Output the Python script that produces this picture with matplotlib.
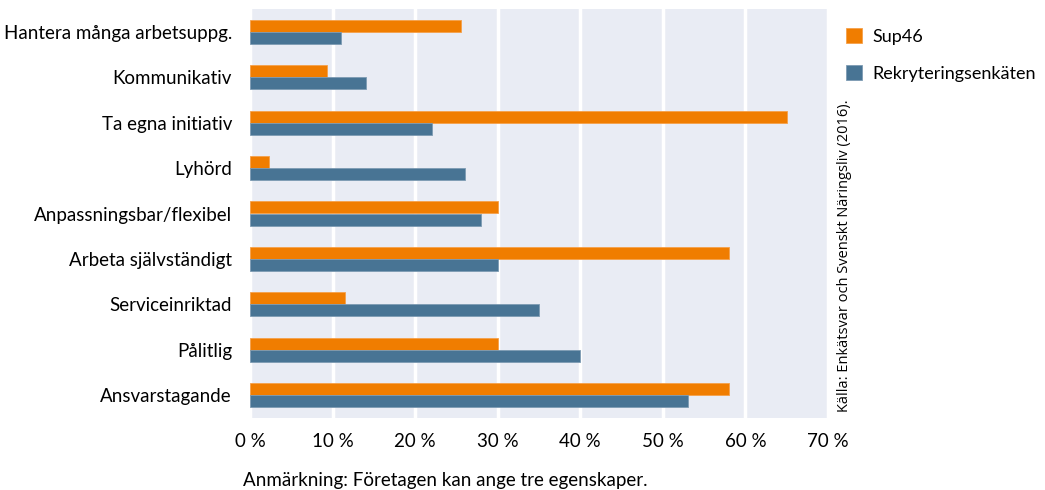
import matplotlib.pyplot as plt
import numpy as np

# egenskaper, uppifrån och ned
egenskaper = [
    "Hantera många arbetsuppg.",
    "Kommunikativ",
    "Ta egna initiativ",
    "Lyhörd",
    "Anpassningsbar/flexibel",
    "Arbeta självständigt",
    "Serviceinriktad",
    "Pålitlig",
    "Ansvarstagande",
]
sup46 = [25.5, 9.3, 65, 2.3, 30, 58, 11.5, 30, 58]
rekrytering = [11, 14, 22, 26, 28, 30, 35, 40, 53]
xticks = [0, 10, 20, 30, 40, 50, 60, 70]

orange = "#f07d00"
blue = "#487494"
bg = "#e9ecf4"

plt.rcParams["font.family"] = ["Lato", "DejaVu Sans"]
fs = 13.5

fig = plt.figure(figsize=(10.45, 4.9), dpi=100)
ax = fig.add_axes([250 / 1045, 1 - 418 / 490, 578 / 1045, 409 / 490])
ax.set_facecolor(bg)

y = np.arange(len(egenskaper))
h = 0.265
ax.barh(y - h / 2, sup46, height=h, color=orange, edgecolor="#f5a04a", linewidth=0.6,
        label="Sup46", zorder=3)
ax.barh(y + h / 2, rekrytering, height=h, color=blue, edgecolor="#7d9bb3", linewidth=0.6,
        label="Rekryteringsenkäten", zorder=3)

ax.set_xlim(0, 70)
ax.set_ylim(len(egenskaper) - 0.5, -0.5)
ax.set_xticks(xticks)
ax.set_xticklabels([f"{t} %" for t in xticks], fontsize=fs)
ax.set_yticks(y)
ax.set_yticklabels(egenskaper, fontsize=fs)
ax.tick_params(length=0, pad=13)
ax.tick_params(axis="x", pad=11)
ax.grid(axis="x", color="white", linewidth=2.5, zorder=1)
for s in ax.spines.values():
    s.set_visible(False)

ax.legend(loc="upper left", bbox_to_anchor=((846 - 250) / 578, 1 - 19 / 409),
          frameon=False, fontsize=13, handlelength=0.9, handleheight=0.9,
          handletextpad=0.55, labelspacing=1.15, borderaxespad=0, borderpad=0)

fig.text(845 / 1045, 1 - 412 / 490, "Källa: Enkätsvar och Svenskt Näringsliv (2016).",
         rotation=90, ha="center", va="bottom", fontsize=10.5, family=["Open Sans", "DejaVu Sans"])
fig.text(243 / 1045, 1 - 480 / 490, "Anmärkning: Företagen kan ange tre egenskaper.",
         ha="left", va="center", fontsize=fs)

fig.savefig("out.png", dpi=100, facecolor="white")
